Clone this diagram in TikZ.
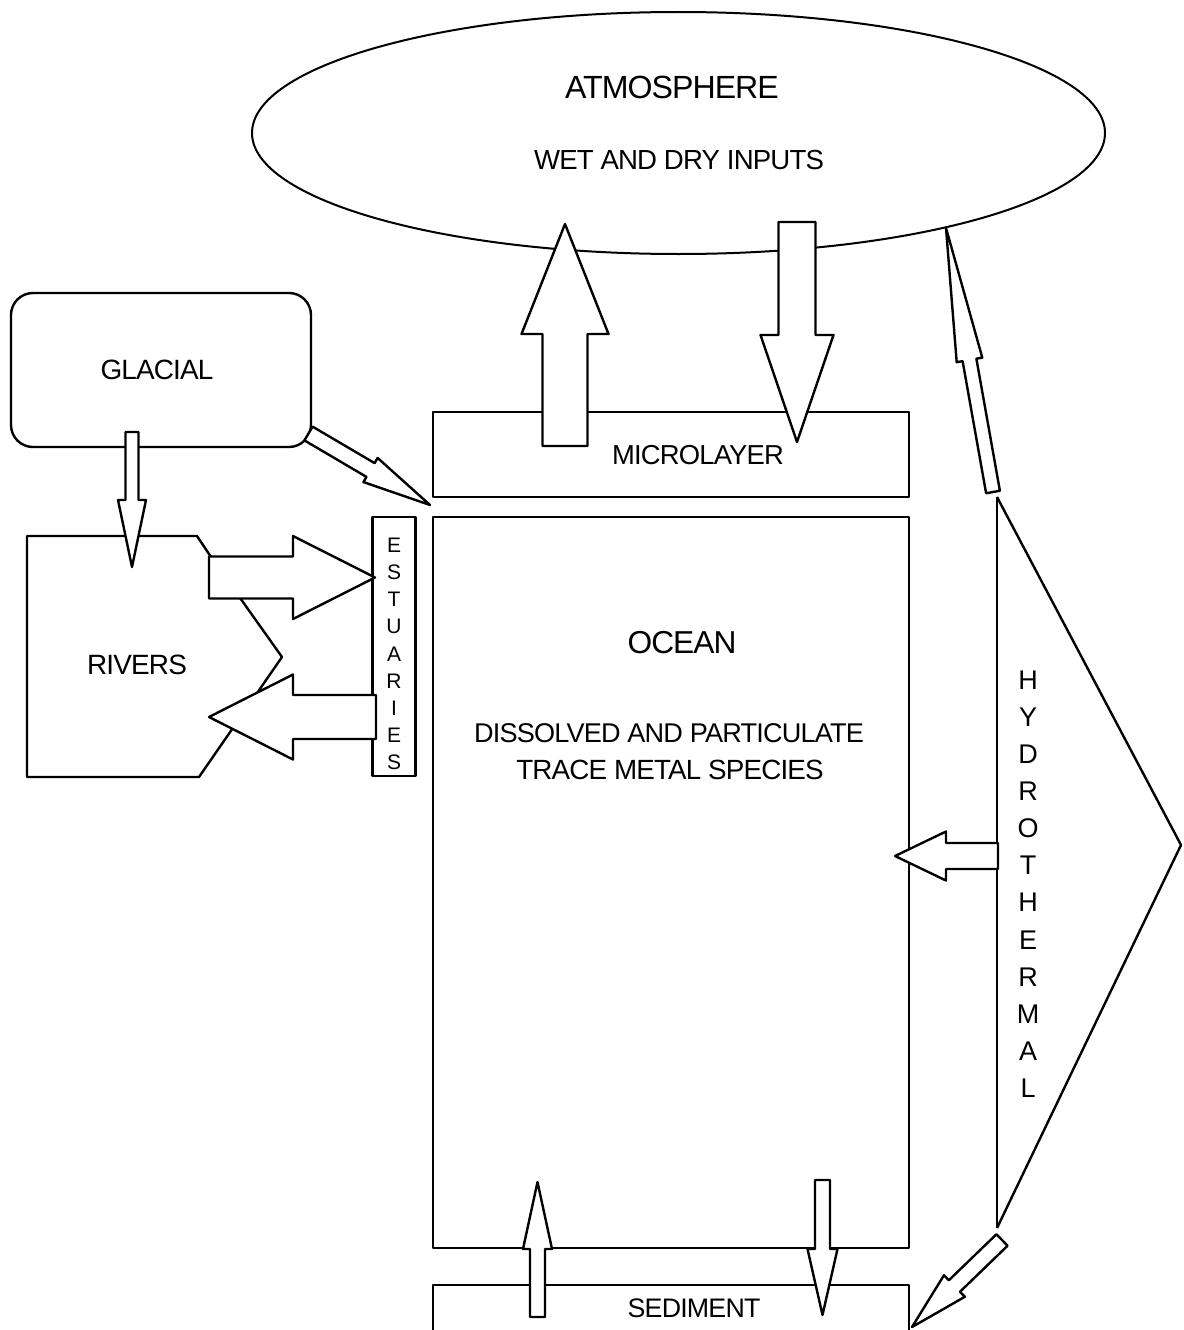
\documentclass[tikz,border=0pt]{standalone}
\usepackage{fontspec}
\setmainfont{Liberation Sans}[LetterSpace=-3]
\usetikzlibrary{calc,shapes.geometric}
\newcommand\fsz[1]{\fontsize{#1}{#1}\selectfont}
% block arrow: #1 name, #2 from, #3 to, #4 shaft half width, #5 head half width, #6 head length
\newcommand\blockarrow[6]{%
  \coordinate (#1h) at ($(#3)!#6!(#2)$);
  \draw[barrow] ($(#2)!#4!90:(#3)$) -- ($(#1h)!#4!90:(#3)$) -- ($(#1h)!#5!90:(#3)$) -- (#3)
     -- ($(#1h)!#5!-90:(#3)$) -- ($(#1h)!#4!-90:(#3)$) -- ($(#2)!#4!-90:(#3)$) -- cycle;
}
\begin{document}
\begin{tikzpicture}[x=1pt,y=-1pt,
  line width=2.4pt, line join=round,
  barrow/.style={draw=black, fill=white, line width=2.4pt, line join=round},
  boxst/.style={draw, rectangle, inner sep=0pt, line width=2.4pt},
  lbl/.style={inner sep=0pt, text=black}]
\fill[white] (0,0) rectangle (1183,1330);
\clip (0,0) rectangle (1183,1330);

% atmosphere
\node[draw, ellipse, minimum width=853pt, minimum height=242pt, inner sep=0pt, line width=2pt] (atm) at (678.5,133) {};
% glacial
\node[boxst, rounded corners=22pt, minimum width=300pt, minimum height=154pt] (glacial) at (161,370) {};
% microlayer, ocean, estuaries
\node[boxst, minimum width=476pt, minimum height=85pt] (micro) at (671,454.5) {};
\node[boxst, minimum width=476pt, minimum height=731pt] (ocean) at (671,882.5) {};
\node[boxst, minimum width=43pt, minimum height=259pt] (estu) at (394,646.5) {};
% sediment (open at the bottom)
\draw (433,1340) -- (433,1285) -- (909,1285) -- (909,1340);
% rivers
\draw (27,536) -- (197,536) -- (211,557) -- (282,657) -- (199,777) -- (27,777) -- cycle;
% hydrothermal frame
\coordinate (hj) at (997,497);
\coordinate (hap) at (1181,845);
\coordinate (hb) at (997,1228);
\draw (hj) -- (hb);
\draw (hj) -- (hap) -- (hb);

% arrow end points
\coordinate (upA) at (565,446);   \coordinate (upB) at (565,224);
\coordinate (dnA) at (797,222);   \coordinate (dnB) at (797,442);
\coordinate (gdA) at (132,432);   \coordinate (gdB) at (132,567);
\coordinate (ggA) at (308.5,433.5); \coordinate (ggB) at (430,505);
\coordinate (reA) at (209,577.5); \coordinate (reB) at (375,577.5);
\coordinate (erA) at (376,717);   \coordinate (erB) at (209,717);
\coordinate (huA) at (993,492);   \coordinate (huB) at (946,228);
\coordinate (hlA) at (998,856);   \coordinate (hlB) at (895,856);
\coordinate (hdA) at (1002,1240); \coordinate (hdB) at (912,1327);
\coordinate (suA) at (537.5,1317); \coordinate (suB) at (537.5,1182);
\coordinate (sdA) at (822.5,1180); \coordinate (sdB) at (822.5,1315);

\blockarrow{up}{upA}{upB}{22.5pt}{43.5pt}{110pt}
\blockarrow{dn}{dnA}{dnB}{18.5pt}{36.5pt}{107pt}
\blockarrow{gd}{gdA}{gdB}{6.5pt}{14pt}{67pt}
\blockarrow{gg}{ggA}{ggB}{8pt}{14pt}{69pt}
\blockarrow{re}{reA}{reB}{21pt}{41.5pt}{82pt}
\blockarrow{er}{erA}{erB}{22pt}{42.5pt}{84pt}
\blockarrow{hu}{huA}{huB}{7pt}{13pt}{134pt}
\blockarrow{hl}{hlA}{hlB}{13pt}{24.5pt}{51pt}
\blockarrow{hd}{hdA}{hdB}{8pt}{15pt}{59pt}
\blockarrow{su}{suA}{suB}{7.5pt}{14.5pt}{67pt}
\blockarrow{sd}{sdA}{sdB}{7.5pt}{15pt}{66pt}

% labels
\node[lbl, font=\fsz{32.1}] (tatm) at (672,87) {ATMOSPHERE};
\node[lbl, font=\fsz{27.6}] (twet) at (679,160) {WET AND DRY INPUTS};
\node[lbl, font=\fsz{27.9}] (tgla) at (157,370) {GLACIAL};
\node[lbl, font=\fsz{27.9}] (triv) at (137,665) {RIVERS};
\node[lbl, font=\fsz{27.4}] (tmic) at (698,455) {MICROLAYER};
\node[lbl, font=\fsz{31.7}] (toce) at (682,643) {OCEAN};
\node[lbl, font=\fsz{27.1}] (tdis) at (669,733) {DISSOLVED AND PARTICULATE};
\node[lbl, font=\fsz{27.8}] (ttra) at (670,770) {TRACE METAL SPECIES};
\node[lbl, font=\fsz{26.8}] (tsed) at (694,1308) {SEDIMENT};
\foreach \c [count=\i from 0] in {E,S,T,U,A,R,I,E,S}
  \node[lbl, font=\fsz{21}] (est\i) at (394,545.5+27.1*\i) {\c};
\foreach \c [count=\i from 0] in {H,Y,D,R,O,T,H,E,R,M,A,L}
  \node[lbl, font=\fsz{27}] (hyd\i) at (1028,680+37.1*\i) {\c};
\end{tikzpicture}
\end{document}
